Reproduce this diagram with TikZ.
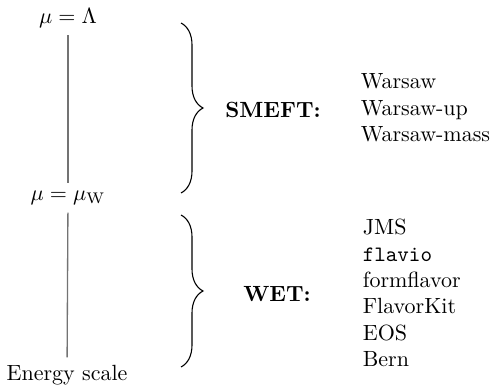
\documentclass[tikz,border=0pt]{standalone}
\usepackage{amsmath}
\usepackage{tikz}
\usetikzlibrary{positioning,calc,decorations.pathreplacing}

\begin{document}
\begin{tikzpicture}[x=0.4545pt,y=-0.4545pt]
\tikzstyle{echelle}=[black!55,line width=0.6pt]
\tikzstyle{accolade}=[decorate,decoration={brace,amplitude=10pt},line width=0.5pt]
\tikzstyle{theorie}=[font=\bfseries]
\tikzstyle{liste}=[align=left,anchor=west]
\useasboundingbox (0,0) rectangle (493,386);
\def\AxeX{68}
\def\AccoladeX{181}
\node (L) at (\AxeX,18) {$\mu=\Lambda$};
\node (W) at (\AxeX,198) {$\mu=\mu_{\mathrm{W}}$};
\node (E) at (67,375) {Energy scale};
\draw[echelle] (L)--(W);
\draw[echelle] (W)--(E);
\coordinate (Sa) at (\AccoladeX,23);
\coordinate (Sb) at (\AccoladeX,193);
\coordinate (Wa) at (\AccoladeX,215);
\coordinate (Wb) at (\AccoladeX,367);
\draw[accolade] (Sa)--(Sb);
\draw[accolade] (Wa)--(Wb);
\node[theorie] (SMEFT) at (273,110) {SMEFT:};
\node[theorie] (WET) at (277,294) {WET:};
\node[liste] (Sl) at (353,108) {Warsaw\\Warsaw-up\\Warsaw-mass};
\node[liste] (Wl) at (355,293) {JMS\\\texttt{flavio}\\formflavor\\FlavorKit\\EOS\\Bern};
\end{tikzpicture}
\end{document}
